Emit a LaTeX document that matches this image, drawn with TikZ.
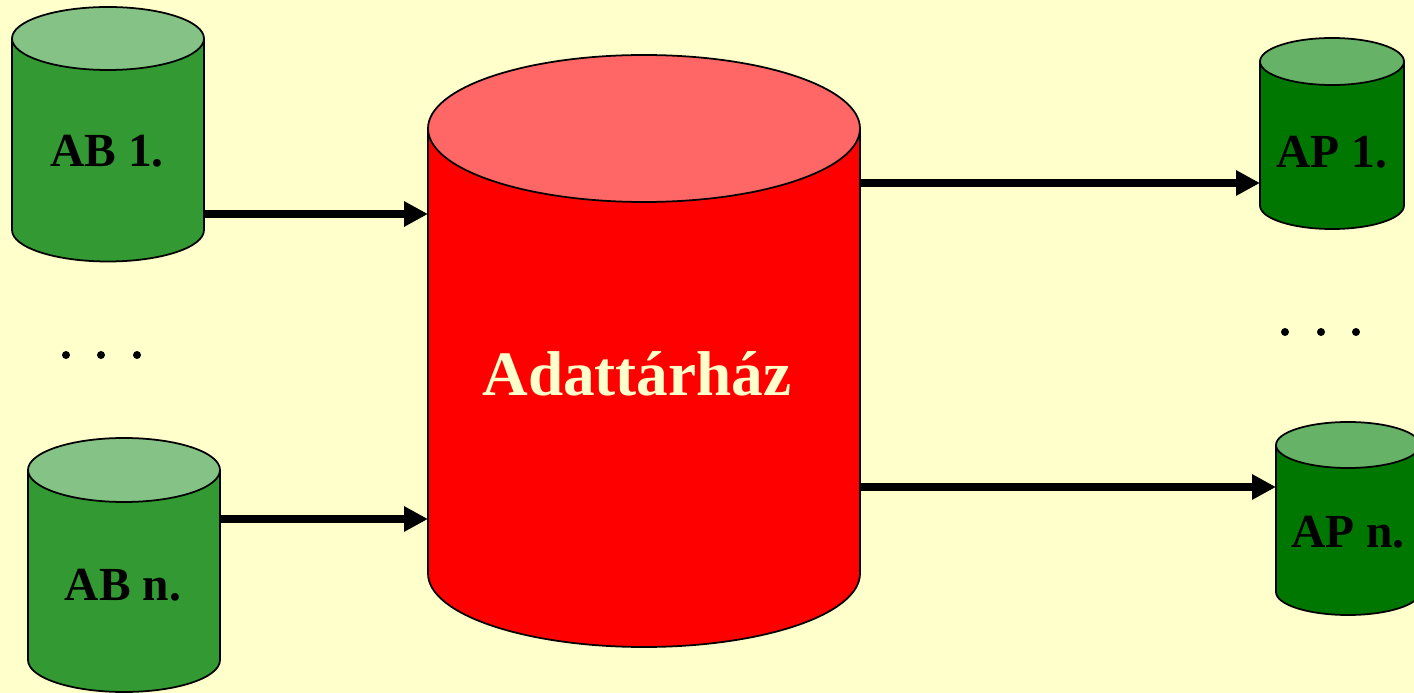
\documentclass[tikz,border=0pt]{standalone}
\usepackage{fontspec}
\setmainfont{Liberation Serif}
\usetikzlibrary{arrows.meta}

\definecolor{paper}{HTML}{FFFFCC}
\definecolor{srcbody}{HTML}{339933}
\definecolor{srctop}{HTML}{85C285}
\definecolor{appbody}{HTML}{007700}
\definecolor{apptop}{HTML}{66B266}
\definecolor{dwbody}{HTML}{FF0000}
\definecolor{dwtop}{HTML}{FF6666}

% cylinder: x, top y, bottom y, x radius, y radius, body colour, lid colour
\newcommand{\dbcyl}[7]{%
  \filldraw[fill=#6, line width=0.5pt] ({#1-#4},#2) -- ({#1-#4},#3)
      arc[start angle=180, end angle=360, x radius=#4, y radius=#5]
      -- ({#1+#4},#2) -- cycle;
  \filldraw[fill=#7, line width=0.5pt] (#1,#2) ellipse[x radius=#4, y radius=#5];
}

\begin{document}
\begin{tikzpicture}[
    lbl/.style={font=\fontsize{13.5}{16}\selectfont\bfseries, anchor=base},
    arr/.style={line width=2.3pt, -{Triangle[length=0.24cm,width=0.24cm]}}
  ]
  \fill[paper] (0,0) rectangle (14.14,-6.93);
  \useasboundingbox (0,0) rectangle (14.14,-6.93);

  % sources
  \dbcyl{1.08}{-0.385}{-2.30}{0.96}{0.315}{srcbody}{srctop}
  \dbcyl{1.24}{-4.70}{-6.60}{0.96}{0.32}{srcbody}{srctop}
  % warehouse
  \dbcyl{6.44}{-1.285}{-5.735}{2.16}{0.735}{dwbody}{dwtop}
  % applications
  \dbcyl{13.32}{-0.615}{-2.055}{0.72}{0.235}{appbody}{apptop}
  \dbcyl{13.48}{-4.45}{-5.92}{0.72}{0.23}{appbody}{apptop}

  \node [lbl] (ab1) at (1.07,-1.67) {AB 1.};
  \node [lbl] (abn) at (1.23,-6.00) {AB n.};
  \node [lbl] (ap1) at (13.32,-1.68) {AP 1.};
  \node [lbl] (apn) at (13.48,-5.48) {AP n.};
  \node [font=\fontsize{18}{22}\selectfont\bfseries, text=paper, anchor=base]
        (dw) at (6.37,-3.95) {Adattárház};

  \coordinate (ab1out) at (2.04,-2.14);
  \coordinate (abnout) at (2.20,-5.19);
  \coordinate (dwin1)  at (4.28,-2.14);
  \coordinate (dwinn)  at (4.28,-5.19);
  \coordinate (dwout1) at (8.60,-1.83);
  \coordinate (dwoutn) at (8.60,-4.87);
  \coordinate (ap1in)  at (12.60,-1.83);
  \coordinate (apnin)  at (12.76,-4.87);

  \draw[arr] (ab1out) -- (dwin1);
  \draw[arr] (abnout) -- (dwinn);
  \draw[arr] (dwout1) -- (ap1in);
  \draw[arr] (dwoutn) -- (apnin);

  % dots between the cylinders
  \foreach \x in {0.66,1.01,1.37}
    \fill (\x,-3.55) circle (0.04);
  \foreach \x in {12.85,13.21,13.56}
    \fill (\x,-3.32) circle (0.04);
\end{tikzpicture}
\end{document}
